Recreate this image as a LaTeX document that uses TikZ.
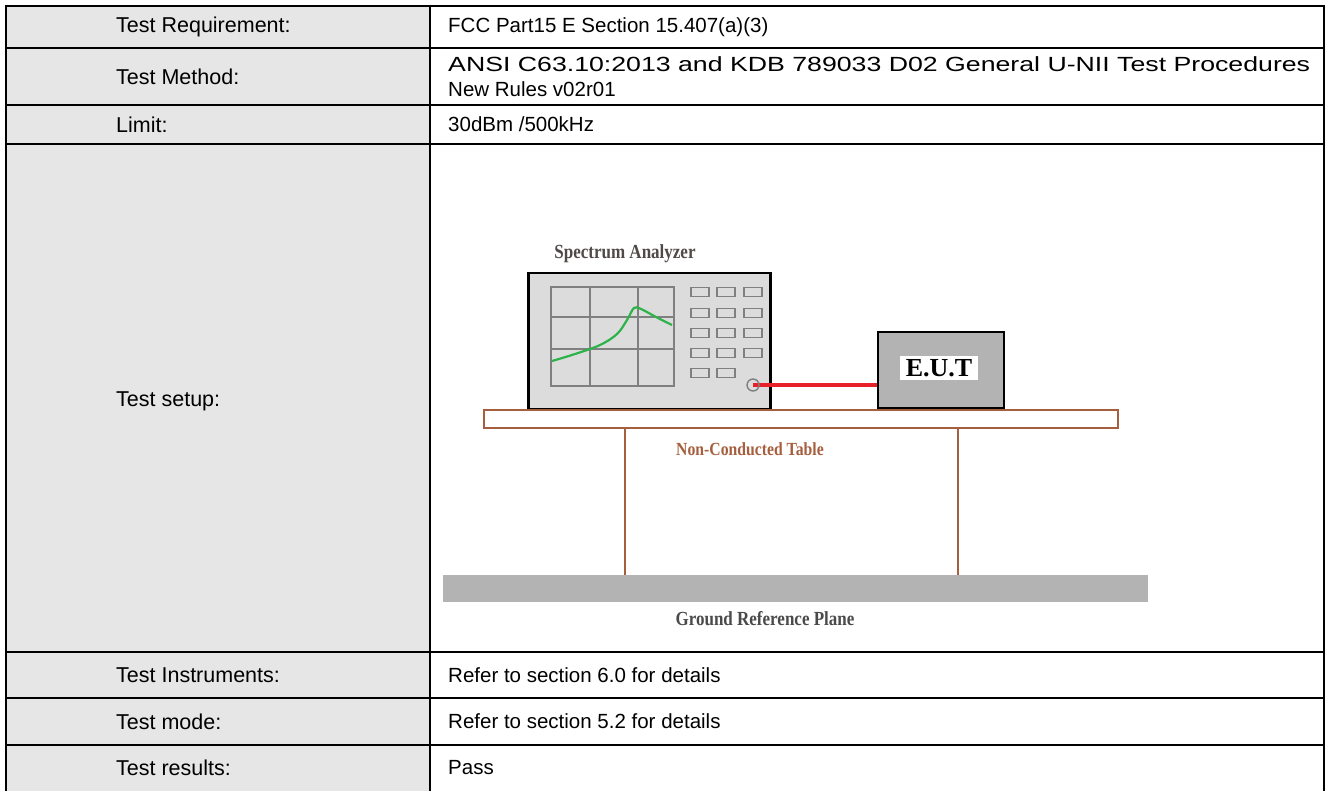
\documentclass[tikz,border=0pt]{standalone}
\usepackage{graphicx}
\usepackage{fontspec}
\setmainfont{Liberation Sans}
\newfontfamily\serifc{Liberation Serif}[FakeStretch=0.85]
\newfontfamily\serifb{Liberation Serif}
\definecolor{cellgray}{HTML}{E6E6E6}
\definecolor{saface}{HTML}{DCDCDC}
\definecolor{gridgray}{HTML}{808080}
\definecolor{curvegreen}{HTML}{2DB34A}
\definecolor{cablered}{HTML}{E8202A}
\definecolor{eutgray}{HTML}{B3B3B3}
\definecolor{tablebrown}{HTML}{A65F3E}
\definecolor{planegray}{HTML}{B3B3B3}
\definecolor{satext}{HTML}{4F4A48}
\definecolor{gndtext}{HTML}{4A4A4A}
\tikzset{
  lefttext/.style={font=\fontsize{21.5}{24}\selectfont, anchor=west, inner sep=0pt, align=left},
  celltext/.style={font=\fontsize{20.5}{24.5}\selectfont, anchor=west, inner sep=0pt, align=left},
  rule/.style={line width=2pt, black},
  btn/.style={draw=gridgray, line width=1.4pt, fill=saface, minimum width=18pt, minimum height=9pt, inner sep=0pt},
  captionc/.style={font=\serifc\bfseries\fontsize{20}{20}\selectfont, inner sep=0pt},
}
\begin{document}
\begin{tikzpicture}[x=1pt, y=-1pt]
\useasboundingbox (0,0) rectangle (1329,791);
% table
\fill[cellgray] (6,6) rectangle (430,791);
\foreach \yy in {6,48,105,144,652,698,745} \draw[rule] (6,\yy) -- (1324,\yy);
\draw[rule] (6,5) -- (6,791);
\draw[rule] (430,6) -- (430,791);
\draw[rule] (1324,5) -- (1324,791);
% left column
\node[lefttext] (lreq) at (116,27) {Test Requirement:};
\node[lefttext] (lmeth) at (116,76.5) {Test Method:};
\node[lefttext] (llim) at (116,124.5) {Limit:};
\node[lefttext] (lsetup) at (116,401) {Test setup:};
\node[lefttext] (linst) at (116,675) {Test Instruments:};
\node[lefttext] (lmode) at (116,721.5) {Test mode:};
\node[lefttext] (lres) at (116,768) {Test results:};
% right column
\node[celltext] (rreq) at (448,27) {FCC Part15 E Section 15.407(a)(3)};
\node[celltext] (rmeth) at (448,76.5) {\resizebox{862pt}{\height}{ANSI C63.10:2013 and KDB 789033 D02 General U-NII Test Procedures}\\New Rules v02r01};
\node[celltext] (rlim) at (448,124.5) {30dBm /500kHz};
\node[celltext] (rinst) at (448,675) {Refer to section 6.0 for details};
\node[celltext] (rmode) at (448,721.5) {Refer to section 5.2 for details};
\node[celltext] (rres) at (448,768) {Pass};
% setup drawing
\node[captionc, text=satext] (satitle) at (625,254) {Spectrum Analyzer};
\node[draw=black, line width=2.5pt, fill=saface, minimum width=242pt, minimum height=136pt, anchor=north west, inner sep=0pt] (sa) at (527,272) {};
\draw[gridgray, line width=1.6pt] (551,287) rectangle (674,386);
\draw[gridgray, line width=1.6pt] (590,287) -- (590,386) (638,287) -- (638,386) (551,317) -- (674,317) (551,349) -- (674,349);
\draw[curvegreen, line width=2.2pt] plot[smooth, tension=0.6] coordinates {(552,361) (575,354) (600,345) (617,334) (627,320) (634,308) (641,309) (656,317) (672,325)};
\foreach \yy in {292,313,333,353} {
  \foreach \xx in {700,726,753} { \node[btn] at (\xx,\yy) {}; }
}
\node[btn] at (700,373) {};
\node[btn] at (726,373) {};
\node[draw=black, line width=2pt, fill=eutgray, minimum width=126pt, minimum height=76pt, anchor=north west, inner sep=0pt] (eut) at (877,331) {};
\node[fill=white, font=\serifb\bfseries\fontsize{26}{26}\selectfont, inner xsep=6pt, inner ysep=3pt] (eutlabel) at (939,368) {E.U.T};
\coordinate (portc) at (753,385);
\draw[cablered, line width=4.5pt] (portc) -- (portc -| eut.west);
\node[circle, draw=gridgray, line width=1.4pt, minimum size=12pt, inner sep=0pt] (port) at (portc) {};
\node[draw=tablebrown, line width=2pt, fill=white, minimum width=634pt, minimum height=18pt, anchor=north west, inner sep=0pt] (ttop) at (483,409) {};
\node[fill=planegray, minimum width=705pt, minimum height=27pt, anchor=north west, inner sep=0pt] (gnd) at (443,575) {};
\coordinate (legl) at (625,500);
\coordinate (legr) at (958,500);
\draw[tablebrown, line width=2pt] (ttop.south -| legl) -- (gnd.north -| legl);
\draw[tablebrown, line width=2pt] (ttop.south -| legr) -- (gnd.north -| legr);
\node[captionc, text=tablebrown, font=\serifc\bfseries\fontsize{18.5}{18.5}\selectfont] (tabletext) at (750,449) {Non-Conducted Table};
\node[captionc, text=gndtext] (gndtext) at (765,619) {Ground Reference Plane};
\end{tikzpicture}
\end{document}
